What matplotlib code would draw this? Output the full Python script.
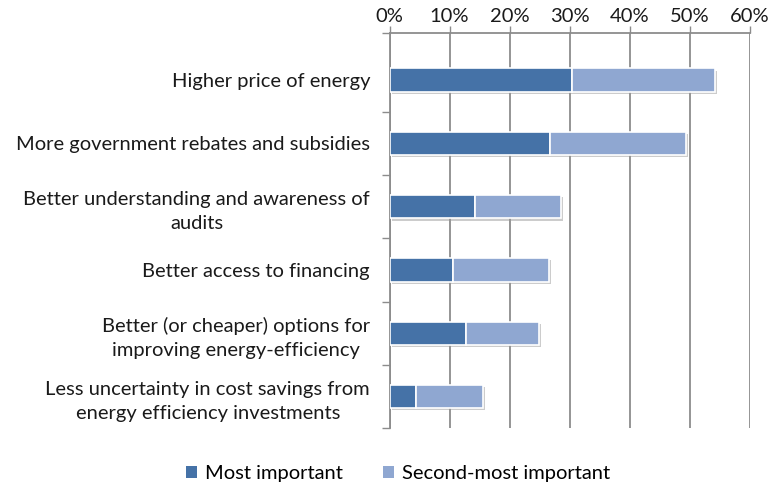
import matplotlib
matplotlib.use("Agg")
import matplotlib.pyplot as plt
import matplotlib.patheffects as pe
from matplotlib.patches import Patch
from matplotlib.ticker import FuncFormatter
import numpy as np

# %% DATA
categories = [
    "Higher price of energy",
    "More government rebates and subsidies",
    "Better understanding and awareness of\naudits",
    "Better access to financing",
    "Better (or cheaper) options for\nimproving energy-efficiency",
    "Less uncertainty in cost savings from\nenergy efficiency investments",
]
most_important = [30.4, 26.7, 14.3, 10.6, 12.7, 4.4]
second_most = [23.8, 22.7, 14.3, 15.9, 12.1, 11.1]
series_names = ["Most important", "Second-most important"]
x_ticks = [0, 10, 20, 30, 40, 50, 60]

dark, light = "#4572a7", "#8fa7d1"

# %% PLOT
plt.rcParams["font.family"] = ["Lato", "DejaVu Sans"]

fig = plt.figure(figsize=(7.72, 4.83), dpi=100)
ax = fig.add_axes([389.5 / 772, 1 - 428.3 / 483, (750 - 389.5) / 772, (428.3 - 33) / 483])

y = np.arange(len(categories))
shadow = [pe.SimplePatchShadow(offset=(1.5, -1.5), shadow_rgbFace="#9a9a9a", alpha=0.5), pe.Normal()]
ax.barh(y, most_important, height=0.37, color=dark, edgecolor="white", linewidth=1.2,
        zorder=3, path_effects=shadow)
ax.barh(y, second_most, left=most_important, height=0.37, color=light, edgecolor="white",
        linewidth=1.2, zorder=3, path_effects=shadow)

ax.set_xlim(0, 60)
ax.set_ylim(5.5, -0.745)
ax.xaxis.tick_top()
ax.set_xticks(x_ticks)
ax.xaxis.set_major_formatter(FuncFormatter(lambda v, p: f"{v:.0f}%"))
ax.tick_params(axis="x", length=5, width=1, color="#8c8c8c", labelsize=14.5, pad=1, labelcolor="#1a1a1a")
ax.grid(axis="x", color="#8c8c8c", linewidth=1.3, zorder=0)

ax.set_yticks(y)
ax.set_yticklabels(categories, multialignment="center", linespacing=1.5)
ax.tick_params(axis="y", length=0, labelsize=14.5, pad=14, labelcolor="#1a1a1a")
ax.set_yticks([-0.745, 0.5, 1.5, 2.5, 3.5, 4.5, 5.5], minor=True)
ax.tick_params(axis="y", which="minor", length=6, width=1, color="#8c8c8c")

for side in ["right", "bottom"]:
    ax.spines[side].set_visible(False)
for side in ["left", "top"]:
    ax.spines[side].set_color("#8c8c8c")
    ax.spines[side].set_linewidth(1.3)

handles = [Patch(facecolor=dark), Patch(facecolor=light)]
fig.legend(handles=handles, labels=series_names, loc="center", bbox_to_anchor=(398 / 772, 1 - 474 / 483),
           ncol=2, frameon=False, fontsize=14.5, handlelength=0.55, handleheight=0.55, handletextpad=0.4,
           columnspacing=2.0)

fig.savefig("out.png", dpi=100)
